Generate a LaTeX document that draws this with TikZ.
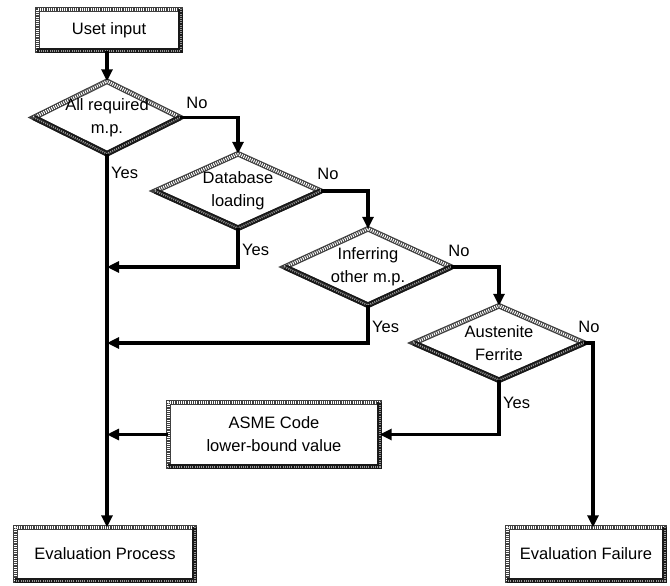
\documentclass[tikz,border=0pt]{standalone}
\usepackage{fontspec}
\setmainfont{Liberation Sans}
\usetikzlibrary{shapes.geometric,arrows.meta}
\pgfdeclarelayer{background}
\pgfsetlayers{background,main}
\tikzset{
 txt/.style={font=\fontsize{16.5}{23}\selectfont, align=center},
 rbox/.style={rectangle, draw=none, inner sep=0pt, txt},
 dia/.style={diamond, draw=none, inner sep=0pt},
 conn/.style={line width=3.2pt, -{Triangle[length=12pt,width=11pt]}},
 lab/.style={txt, inner sep=0pt},
 bandbase/.style={line width=5.5pt, draw=black!75, line join=miter},
 bandlight/.style={line width=3pt, draw=white, dash pattern=on 1pt off 1.2pt},
 banddark/.style={line width=5.5pt, draw=black!90, line join=miter, line cap=square},
 banddots/.style={line width=1.8pt, draw=black!40, dash pattern=on 1pt off 1.2pt},
}
\newcommand\mkrectband[1]{%
 \draw[bandbase] (#1.south west) rectangle (#1.north east);
 \draw[bandlight] (#1.south west) -- (#1.north west) -- (#1.north east);
 \draw[banddark] (#1.north east) -- (#1.south east) -- (#1.south west);
 \draw[banddots] (#1.north east) -- (#1.south east) -- (#1.south west);
}
\newcommand\mkdiaband[1]{%
 \draw[bandbase] (#1.west) -- (#1.north) -- (#1.east) -- (#1.south) -- cycle;
 \draw[bandlight] (#1.west) -- (#1.north) -- (#1.east);
 \draw[banddark] (#1.east) -- (#1.south) -- (#1.west);
 \draw[banddots] (#1.east) -- (#1.south) -- (#1.west);
}
\begin{document}
\begin{tikzpicture}[x=1pt,y=-1pt]
\useasboundingbox (0,0) rectangle (670,586);
% boxes
\node[rbox, minimum width=143pt, minimum height=41pt] (ui) at (109,30) {Uset input};
\node[rbox, minimum width=211pt, minimum height=64pt] (asme) at (274,434.5) {ASME Code\\lower-bound value};
\node[rbox, minimum width=179pt, minimum height=53pt] (ep) at (105,554) {Evaluation Process};
\node[rbox, minimum width=157pt, minimum height=53pt] (ef) at (586,554) {Evaluation Failure};
% decisions
\node[dia, minimum width=146pt, minimum height=72pt, label={[txt]center:All required\\m.p.}] (d1) at (107,117.5) {};
\node[dia, minimum width=165pt, minimum height=74pt, label={[txt]center:Database\\loading}] (d2) at (238,191) {};
\node[dia, minimum width=166pt, minimum height=76pt, label={[txt]center:Inferring\\other m.p.}] (d3) at (368,267) {};
\node[dia, minimum width=170pt, minimum height=74pt, label={[txt]center:Austenite\\Ferrite}] (d4) at (499,343) {};
% borders
\begin{pgfonlayer}{background}
 \mkrectband{ui}
 \mkrectband{asme}
 \mkrectband{ep}
 \mkrectband{ef}
 \mkdiaband{d1}
 \mkdiaband{d2}
 \mkdiaband{d3}
 \mkdiaband{d4}
\end{pgfonlayer}
% connectors
\coordinate (nf) at (593,343);
\draw[conn] (ui.south -| d1.north) -- (d1.north);
\draw[conn] (d1.east) -| (d2.north);
\draw[conn] (d2.east) -| (d3.north);
\draw[conn] (d3.east) -| (d4.north);
\draw[conn] (d4.east) -- (nf) -- (nf |- ef.north);
\draw[conn] (d1.south) -- (d1.south |- ep.north);
\draw[conn] (d2.south) |- (d1.south |- d3.center);
\draw[conn] (d3.south) |- (d1.south |- d4.center);
\draw[conn] (d4.south) |- (asme.east);
\draw[conn] (asme.west) -- (asme.west -| d1.south);
% labels
\node[lab] (no1) at (197,103) {No};
\node[lab] (no2) at (328,174) {No};
\node[lab] (no3) at (459,251) {No};
\node[lab] (no4) at (589,327) {No};
\node[lab, anchor=west] (y1) at (111,173) {Yes};
\node[lab, anchor=west] (y2) at (242,250) {Yes};
\node[lab, anchor=west] (y3) at (372,327) {Yes};
\node[lab, anchor=west] (y4) at (503,403) {Yes};
\end{tikzpicture}
\end{document}
